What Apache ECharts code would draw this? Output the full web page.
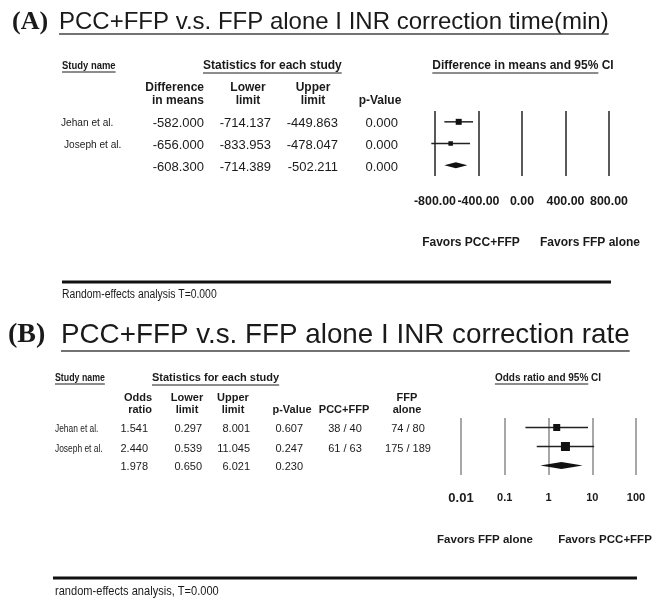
<!DOCTYPE html>
<html><head><meta charset="utf-8">
<script src="https://cdn.jsdelivr.net/npm/echarts@6/dist/echarts.min.js"></script>
<style>html,body{margin:0;padding:0;background:#fff}#c{width:662px;height:602px}</style>
</head><body><div id="c"></div><script>
// ---------- Panel A data: INR correction time (min) ----------
const studiesA = ['Jehan et al.', 'Joseph et al.', ''];
const diffMeans = [-582.000, -656.000, -608.300];
const lowerA = [-714.137, -833.953, -714.389];
const upperA = [-449.863, -478.047, -502.211];
const pValA = [0.000, 0.000, 0.000];
const ticksA = [-800, -400, 0, 400, 800];
const tickLabelsA = ['-800.00', '-400.00', '0.00', '400.00', '800.00'];
// ---------- Panel B data: INR correction rate ----------
const studiesB = ['Jehan et al.', 'Joseph et al.', ''];
const oddsRatio = [1.541, 2.440, 1.978];
const lowerB = [0.297, 0.539, 0.650];
const upperB = [8.001, 11.045, 6.021];
const pValB = [0.607, 0.247, 0.230];
const eventsPCC = ['38 / 40', '61 / 63', ''];
const eventsFFP = ['74 / 80', '175 / 189', ''];
const ticksB = [0.01, 0.1, 1, 10, 100];
const tickLabelsB = ['0.01', '0.1', '1', '10', '100'];

const SANS = '"Liberation Sans", Arial, sans-serif';
const SERIF = '"Liberation Serif", "Times New Roman", serif';
const INK = '#1a1a1a';

const mctx = document.createElement('canvas').getContext('2d');
function tw(text, size, weight, family) {
  mctx.font = (weight || 'normal') + ' ' + size + 'px ' + family;
  return mctx.measureText(text).width;
}
const G = [];
function T(x, y, text, o) {
  o = o || {};
  const el = {type: 'text', x: x, y: y, silent: true, style: {
    text: text, fill: o.fill || INK, fontSize: o.size || 11, fontWeight: o.weight || 'normal',
    fontFamily: o.family || SANS, align: o.align || 'left', verticalAlign: 'middle'}};
  if (o.sx) el.scaleX = o.sx;
  G.push(el);
  if (o.ul) {
    const sx = o.sx || 1;
    const full = tw(text, o.size || 11, o.weight, o.family || SANS) * sx;
    const w = (typeof o.ul === 'string' ? tw(o.ul, o.size || 11, o.weight, o.family || SANS) * sx : full);
    let x0 = x;
    if (o.align === 'center') x0 = x - full / 2; else if (o.align === 'right') x0 = x - full;
    const uy = y + (o.uly || (o.size || 11) * 0.62);
    G.push({type: 'line', silent: true, shape: {x1: x0, y1: uy, x2: x0 + w, y2: uy},
      style: {stroke: o.ulc || INK, lineWidth: o.ulw || 1}});
  }
}
function L(x1, y1, x2, y2, w, c) {
  G.push({type: 'line', silent: true, shape: {x1: x1, y1: y1, x2: x2, y2: y2}, style: {stroke: c || '#111', lineWidth: w}});
}

// ----- Panel A text -----
T(12, 22, '(A)', {size: 26, weight: 'bold', family: SERIF});
T(59, 22, 'PCC+FFP v.s. FFP alone I INR correction time(min)', {size: 24, ul: true, uly: 12, ulw: 1.5, ulc: '#444'});
T(62, 66, 'Study name', {size: 10.5, weight: 'bold', sx: 0.9, ul: true, uly: 6});
T(203, 66, 'Statistics for each study', {size: 12, weight: 'bold', ul: true, uly: 7});
T(523, 66, 'Difference in means and 95% CI', {size: 12, weight: 'bold', align: 'center', ul: 'Difference in means and 95%', uly: 7});
T(204, 88, 'Difference', {size: 12, weight: 'bold', align: 'right'});
T(204, 101, 'in means', {size: 12, weight: 'bold', align: 'right'});
T(248, 88, 'Lower', {size: 12, weight: 'bold', align: 'center'});
T(248, 101, 'limit', {size: 12, weight: 'bold', align: 'center'});
T(313, 88, 'Upper', {size: 12, weight: 'bold', align: 'center'});
T(313, 101, 'limit', {size: 12, weight: 'bold', align: 'center'});
T(380, 101, 'p-Value', {size: 12, weight: 'bold', align: 'center'});
const rowYA = [123, 145, 167];
const nameXA = [61, 64, 61];
for (let i = 0; i < 3; i++) {
  if (studiesA[i]) T(nameXA[i], rowYA[i], studiesA[i], {size: 11.5, sx: 0.88});
  T(204, rowYA[i], diffMeans[i].toFixed(3), {size: 13, align: 'right'});
  T(271, rowYA[i], lowerA[i].toFixed(3), {size: 13, align: 'right'});
  T(338, rowYA[i], upperA[i].toFixed(3), {size: 13, align: 'right'});
  T(398, rowYA[i], pValA[i].toFixed(3), {size: 13, align: 'right'});
}
T(471, 243, 'Favors PCC+FFP', {size: 12, weight: 'bold', align: 'center'});
T(590, 243, 'Favors FFP alone', {size: 12, weight: 'bold', align: 'center'});
L(62, 282, 611, 282, 3);
T(62, 295, 'Random-effects analysis T=0.000', {size: 12.5, sx: 0.83});

// ----- Panel B text -----
T(8, 335, '(B)', {size: 28, weight: 'bold', family: SERIF});
T(61, 335, 'PCC+FFP v.s. FFP alone I INR correction rate', {size: 27.8, ul: true, uly: 16, ulw: 1.5, ulc: '#444'});
T(55, 378, 'Study name', {size: 10, weight: 'bold', sx: 0.88, ul: true, uly: 6});
T(152, 378, 'Statistics for each study', {size: 11, weight: 'bold', ul: true, uly: 7});
T(548, 378, 'Odds ratio and 95% CI', {size: 10, weight: 'bold', align: 'center', ul: 'Odds ratio and 95%', uly: 6});
T(152, 398, 'Odds', {size: 11, weight: 'bold', align: 'right'});
T(152, 410, 'ratio', {size: 11, weight: 'bold', align: 'right'});
T(187, 398, 'Lower', {size: 11, weight: 'bold', align: 'center'});
T(187, 410, 'limit', {size: 11, weight: 'bold', align: 'center'});
T(233, 398, 'Upper', {size: 11, weight: 'bold', align: 'center'});
T(233, 410, 'limit', {size: 11, weight: 'bold', align: 'center'});
T(292, 410, 'p-Value', {size: 11, weight: 'bold', align: 'center'});
T(344, 410, 'PCC+FFP', {size: 11, weight: 'bold', align: 'center'});
T(407, 398, 'FFP', {size: 11, weight: 'bold', align: 'center'});
T(407, 410, 'alone', {size: 11, weight: 'bold', align: 'center'});
const rowYB = [429, 449, 467];
for (let i = 0; i < 3; i++) {
  if (studiesB[i]) T(55, rowYB[i], studiesB[i], {size: 10.5, sx: 0.8});
  T(148, rowYB[i], oddsRatio[i].toFixed(3), {size: 11, align: 'right'});
  T(202, rowYB[i], lowerB[i].toFixed(3), {size: 11, align: 'right'});
  T(250, rowYB[i], upperB[i].toFixed(3), {size: 11, align: 'right'});
  T(303, rowYB[i], pValB[i].toFixed(3), {size: 11, align: 'right'});
  if (eventsPCC[i]) T(345, rowYB[i], eventsPCC[i], {size: 11, align: 'center'});
  if (eventsFFP[i]) T(408, rowYB[i], eventsFFP[i], {size: 11, align: 'center'});
}
T(485, 540, 'Favors FFP alone', {size: 11.5, weight: 'bold', align: 'center'});
T(605, 540, 'Favors PCC+FFP', {size: 11.5, weight: 'bold', align: 'center'});
L(53, 578, 637, 578, 3);
T(55, 591, 'random-effects analysis, T=0.000', {size: 13.5, sx: 0.82});

// ----- forest marks -----
function forestRender(sizes, halfH) {
  return function (params, api) {
    const row = api.value(0), est = api.value(1), lo = api.value(2), hi = api.value(3), summ = api.value(4);
    const pe = api.coord([est, row]), pl = api.coord([lo, row]), ph = api.coord([hi, row]);
    if (summ) {
      return {type: 'polygon', shape: {points: [[pl[0], pe[1]], [pe[0], pe[1] - halfH], [ph[0], pe[1]], [pe[0], pe[1] + halfH]]},
        style: {fill: '#111'}};
    }
    const s = sizes[row];
    return {type: 'group', children: [
      {type: 'line', shape: {x1: pl[0], y1: pl[1], x2: ph[0], y2: ph[1]}, style: {stroke: '#222', lineWidth: 1.5}},
      {type: 'rect', shape: {x: pe[0] - s / 2, y: pe[1] - s / 2, width: s, height: s}, style: {fill: '#111'}}
    ]};
  };
}
const dataA = diffMeans.map((v, i) => [i, v, lowerA[i], upperA[i], studiesA[i] ? 0 : 1]);
const dataB = oddsRatio.map((v, i) => [i, v, lowerB[i], upperB[i], studiesB[i] ? 0 : 1]);
function labelOf(ticks, labels, v) {
  for (let i = 0; i < ticks.length; i++) if (Math.abs(ticks[i] - v) <= Math.abs(ticks[i]) * 1e-6 + 1e-12) return labels[i];
  return '';
}

const chart = echarts.init(document.getElementById('c'), null, {renderer: 'canvas'});
chart.setOption({
  animation: false,
  backgroundColor: '#fff',
  grid: [
    {left: 435, right: 53, top: 111, height: 65},
    {left: 461, right: 26, top: 418, height: 57}
  ],
  xAxis: [
    {gridIndex: 0, type: 'value', min: -800, max: 800, interval: 400,
      axisLine: {show: false}, axisTick: {show: false},
      splitLine: {show: true, showMinLine: true, showMaxLine: true, lineStyle: {color: '#222', width: 1.5}},
      axisLabel: {margin: 20, color: INK, fontSize: 12.4, fontWeight: 'bold', fontFamily: SANS,
        interval: 0, hideOverlap: false, showMinLabel: true, showMaxLabel: true,
        formatter: v => labelOf(ticksA, tickLabelsA, v)}},
    {gridIndex: 1, type: 'log', logBase: 10, min: 0.01, max: 100,
      axisLine: {show: false}, axisTick: {show: false}, minorTick: {show: false},
      splitLine: {show: true, showMinLine: true, showMaxLine: true, lineStyle: {color: '#8a8a8a', width: 1.5}},
      axisLabel: {margin: 17, color: INK, fontSize: 11, fontWeight: 'bold', fontFamily: SANS,
        interval: 0, hideOverlap: false, showMinLabel: true, showMaxLabel: true,
        formatter: v => { const s = labelOf(ticksB, tickLabelsB, v); return s === tickLabelsB[0] ? '{big|' + s + '}' : s; },
        rich: {big: {fontSize: 13, fontWeight: 'bold', fontFamily: SANS, color: INK}}}}
  ],
  yAxis: [
    {gridIndex: 0, type: 'category', data: studiesA.map((s, i) => i), inverse: true, show: false},
    {gridIndex: 1, type: 'category', data: studiesB.map((s, i) => i), inverse: true, show: false}
  ],
  series: [
    {type: 'custom', xAxisIndex: 0, yAxisIndex: 0, clip: false, data: dataA,
      encode: {x: [1, 2, 3], y: 0}, renderItem: forestRender([6, 4.5], 3)},
    {type: 'custom', xAxisIndex: 1, yAxisIndex: 1, clip: false, data: dataB,
      encode: {x: [1, 2, 3], y: 0}, renderItem: forestRender([7, 9], 3.5)}
  ],
  graphic: {elements: G}
});
</script></body></html>
